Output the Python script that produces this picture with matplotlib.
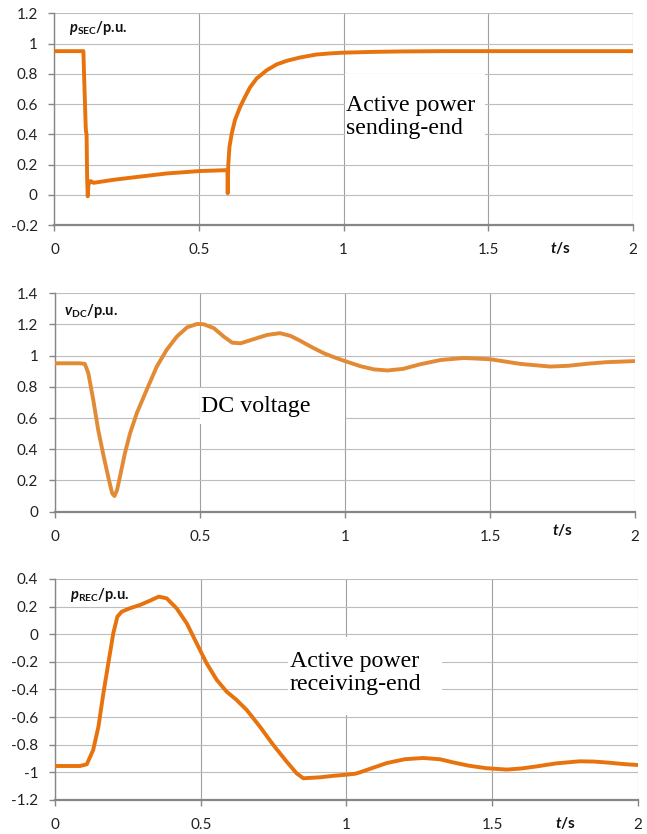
import numpy as np
import matplotlib
matplotlib.use("Agg")
import matplotlib.pyplot as plt

plt.rcParams['font.family'] = ['Lato', 'DejaVu Sans']
plt.rcParams['mathtext.fontset'] = 'custom'
plt.rcParams['mathtext.rm'] = 'Lato'
plt.rcParams['mathtext.bf'] = 'Lato:bold'
plt.rcParams['mathtext.it'] = 'Lato:italic'
plt.rcParams['mathtext.bfit'] = 'Lato:italic:bold'

# sending-end active power
t_sec = [0, 0.1, 0.103, 0.108, 0.109, 0.111, 0.113, 0.115, 0.118, 0.122, 0.126, 0.135,
         0.2, 0.273, 0.388, 0.503, 0.598, 0.599, 0.601, 0.605, 0.613, 0.624, 0.642, 0.659,
         0.676, 0.699, 0.734, 0.768, 0.803, 0.849, 0.907, 0.953, 1.0, 1.1, 1.2, 1.35, 2.0]
p_sec = [0.95, 0.95, 0.75, 0.45, 0.42, 0.40, 0.10, -0.01, 0.09, 0.08, 0.09, 0.079,
         0.098, 0.115, 0.141, 0.157, 0.163, 0.01, 0.2, 0.317, 0.406, 0.494, 0.582, 0.648,
         0.71, 0.769, 0.824, 0.862, 0.886, 0.908, 0.928, 0.935, 0.94, 0.945, 0.948, 0.95, 0.95]

# DC voltage
t_dc = [0, 0.086, 0.103, 0.115, 0.132, 0.149, 0.168, 0.186, 0.197, 0.205, 0.214, 0.224,
        0.241, 0.259, 0.282, 0.316, 0.351, 0.385, 0.42, 0.456, 0.49, 0.513, 0.548, 0.582,
        0.611, 0.64, 0.684, 0.732, 0.776, 0.813, 0.847, 0.88, 0.905, 0.93, 0.962, 1.0,
        1.054, 1.1, 1.146, 1.2, 1.26, 1.33, 1.41, 1.5, 1.56, 1.605, 1.708, 1.77, 1.835,
        1.9, 2.0]
v_dc = [0.951, 0.951, 0.947, 0.887, 0.716, 0.524, 0.353, 0.203, 0.118, 0.10, 0.139, 0.224,
        0.374, 0.503, 0.631, 0.78, 0.93, 1.037, 1.122, 1.182, 1.203, 1.201, 1.176, 1.122,
        1.083, 1.079, 1.105, 1.133, 1.144, 1.126, 1.094, 1.06, 1.036, 1.013, 0.99, 0.965,
        0.932, 0.912, 0.905, 0.915, 0.945, 0.972, 0.985, 0.977, 0.96, 0.947, 0.93, 0.935,
        0.948, 0.958, 0.965]

# receiving-end active power
t_rec = [0, 0.086, 0.109, 0.131, 0.149, 0.166, 0.183, 0.2, 0.214, 0.229, 0.257, 0.292,
         0.326, 0.356, 0.383, 0.417, 0.452, 0.486, 0.52, 0.555, 0.589, 0.623, 0.658,
         0.703, 0.749, 0.795, 0.829, 0.852, 0.909, 0.956, 1.0, 1.03, 1.046, 1.08, 1.138,
         1.2, 1.263, 1.32, 1.366, 1.42, 1.48, 1.55, 1.6, 1.652, 1.72, 1.80, 1.85, 1.9,
         1.95, 2.0]
p_rec = [-0.954, -0.954, -0.942, -0.838, -0.669, -0.428, -0.21, 0.007, 0.127, 0.163, 0.188,
         0.212, 0.243, 0.272, 0.26, 0.188, 0.079, -0.066, -0.21, -0.331, -0.416, -0.476,
         -0.549, -0.669, -0.802, -0.923, -1.007, -1.043, -1.036, -1.025, -1.017, -1.01,
         -1.0, -0.975, -0.933, -0.905, -0.896, -0.905, -0.928, -0.952, -0.97, -0.98,
         -0.972, -0.957, -0.935, -0.92, -0.922, -0.93, -0.94, -0.947]

x_ticks = [0, 0.5, 1, 1.5, 2]
x_labels = ['0', '0.5', '1', '1.5', '2']

fig = plt.figure(figsize=(6.47, 8.34), dpi=100)

panels = [
    dict(rect=[0.0842, 0.7302, 0.894, 0.2538], t=t_sec, y=p_sec, color='#E8720C',
         ylim=(-0.2, 1.2), yt=np.arange(-0.2, 1.21, 0.2),
         ylab=r'$\mathbfit{p}_{\mathbf{SEC}}$/p.u.', lab_off=(15, -15), tdy=-23,
         note='Active power\nsending-end', note_xy=(346, 95), box=(345, 74, 140, 89)),
    dict(rect=[0.085, 0.3865, 0.8964, 0.2619], t=t_dc, y=v_dc, color='#E38A34',
         ylim=(0, 1.4), yt=np.arange(0, 1.41, 0.2),
         ylab=r'$\mathbfit{v}_{\mathbf{DC}}$/p.u.', lab_off=(9, -18), tdy=-18,
         note='DC voltage', note_xy=(201, 396), box=(200, 388, 145, 36)),
    dict(rect=[0.085, 0.0408, 0.901, 0.265], t=t_rec, y=p_rec, color='#E8720C',
         ylim=(-1.2, 0.4), yt=np.arange(-1.2, 0.41, 0.2),
         ylab=r'$\mathbfit{p}_{\mathbf{REC}}$/p.u.', lab_off=(15, -16), tdy=-23,
         note='Active power\nreceiving-end', note_xy=(290, 651), box=(288, 637, 154, 78)),
]

for pn in panels:
    ax = fig.add_axes(pn['rect'])
    ax.plot(pn['t'], pn['y'], color=pn['color'], lw=2.8, solid_joinstyle='round',
            solid_capstyle='round', zorder=3)
    ax.set_xlim(0, 2)
    ax.set_ylim(*pn['ylim'])
    ax.set_xticks(x_ticks)
    ax.set_xticklabels(x_labels)
    ax.set_yticks(pn['yt'])
    ax.set_yticklabels(['%g' % (round(v, 1) + 0.0) for v in pn['yt']])
    ax.tick_params(axis='both', direction='out', length=4, width=1, color='#868686',
                   labelsize=11, labelcolor='#222222')
    ax.tick_params(axis='x', pad=9)
    ax.tick_params(axis='y', pad=8)
    ax.grid(True, axis='x', color='#a0a0a0', lw=0.8)
    ax.grid(True, axis='y', color='#bdbdbd', lw=0.8)
    ax.set_axisbelow(True)
    for s in ['top', 'right']:
        ax.spines[s].set_visible(False)
    ax.spines['left'].set_color('#868686')
    ax.spines['bottom'].set_color('#868686')
    ax.spines['bottom'].set_linewidth(1.6)
    ax.spines['left'].set_linewidth(1.0)

    ax.annotate(pn['ylab'], xy=(0, 1), xycoords='axes fraction', xytext=pn['lab_off'],
                textcoords='offset pixels', ha='left', va='center', fontsize=10.5,
                fontweight='bold', color='#111111')
    ax.annotate(r'$\mathbfit{t}$/s', xy=(1.75, 0), xycoords=('data', 'axes fraction'),
                xytext=(0, pn['tdy']), textcoords='offset pixels', ha='center', va='center',
                fontsize=11, fontweight='bold', color='#111111')

    # white box behind the label, covering the grid
    bx, by, bw, bh = pn['box']
    fig.patches.append(plt.Rectangle((bx / 647, 1 - (by + bh) / 834), bw / 647, bh / 834,
                                     transform=fig.transFigure, facecolor='white',
                                     edgecolor='none', zorder=2))
    nx, ny = pn['note_xy']
    fig.text(nx / 647, 1 - ny / 834, pn['note'], ha='left', va='top',
             fontsize=17.2, family='Liberation Serif', linespacing=1.12, zorder=4)

fig.savefig('out.png', dpi=100)
